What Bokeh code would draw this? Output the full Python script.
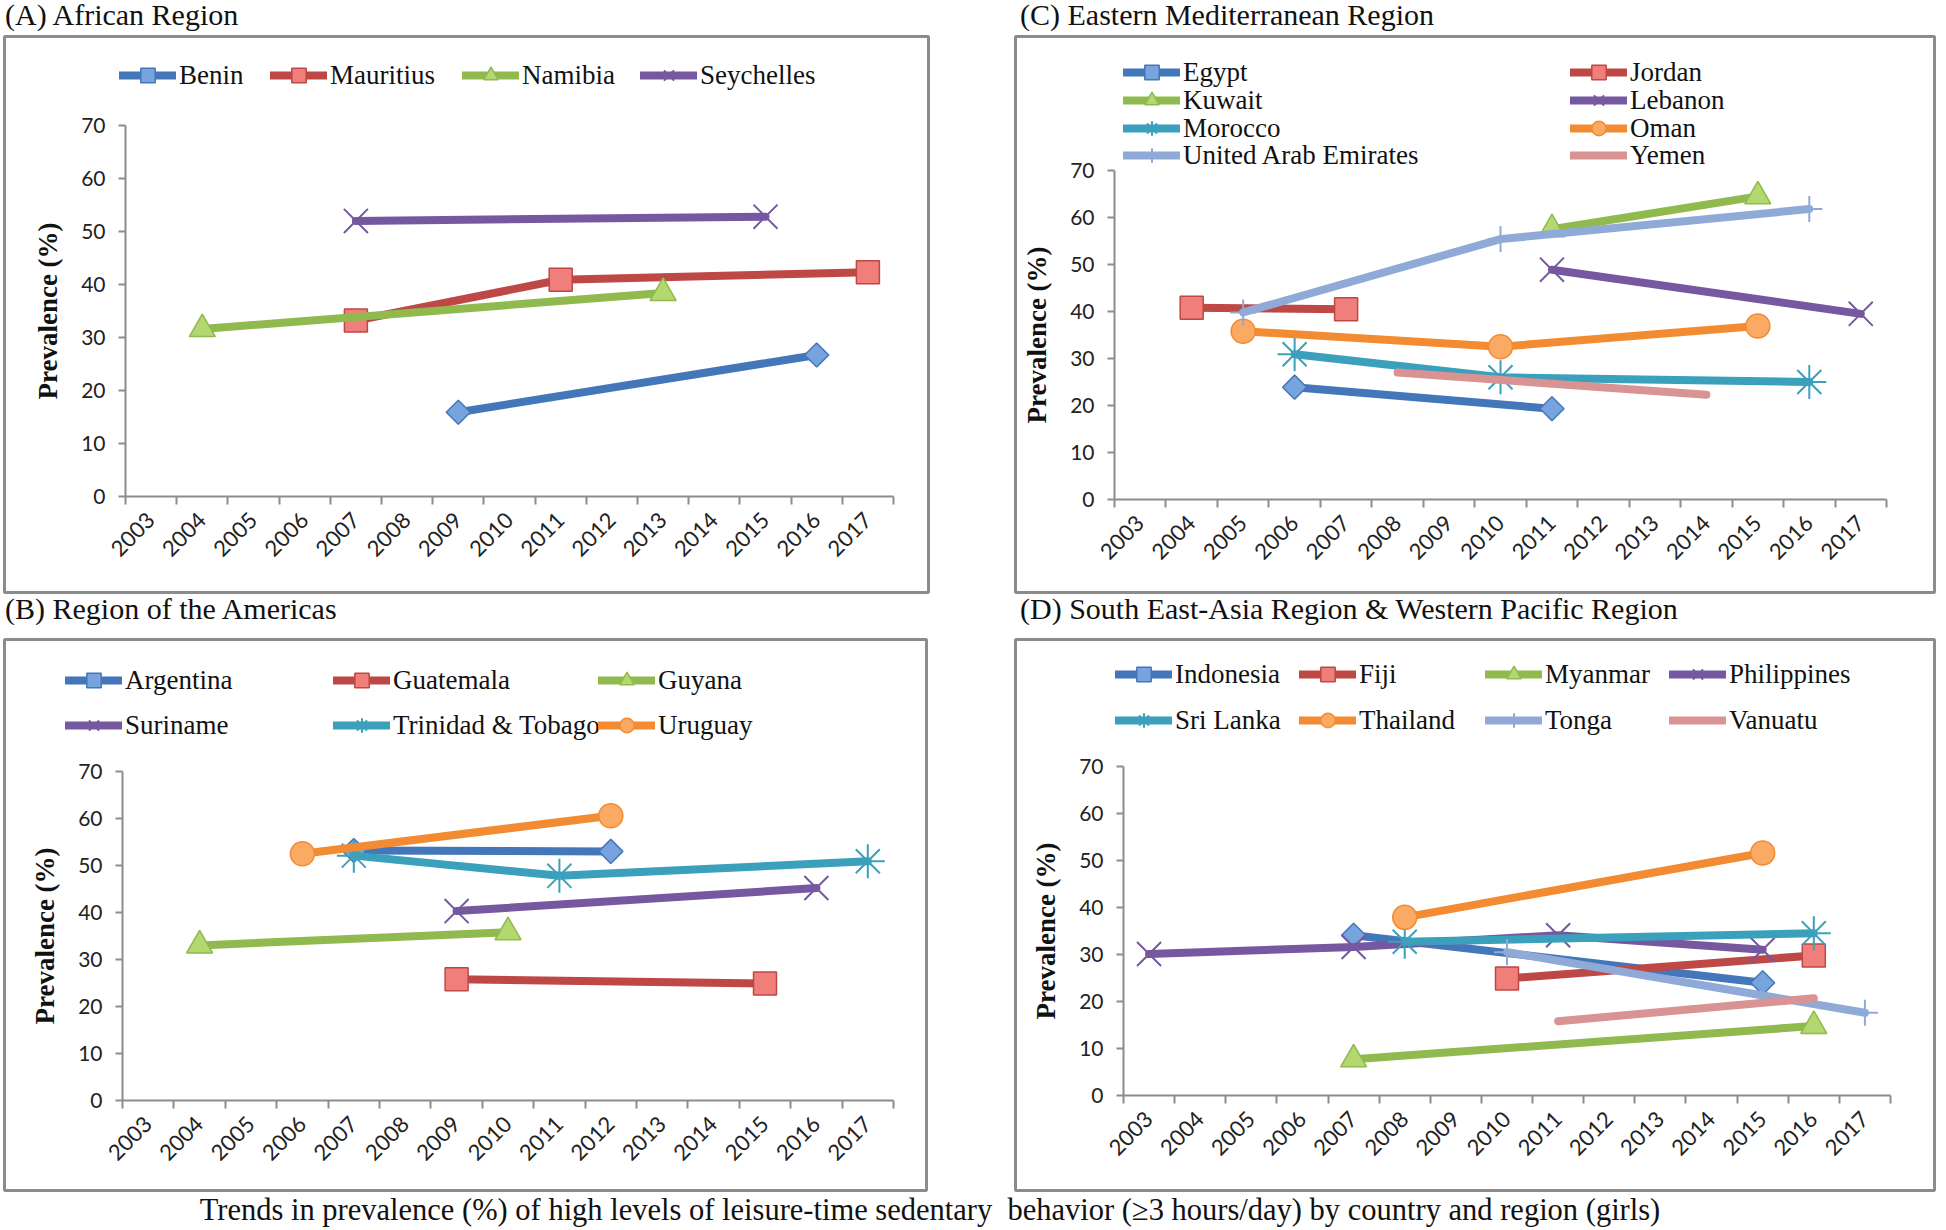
import numpy as np
from bokeh.plotting import figure
from bokeh.models import Range1d, LinearAxis, FixedTicker, Legend, LegendItem, Div
from bokeh.layouts import column, row
from bokeh.embed import file_html
from bokeh.resources import INLINE

# ---------------- data ----------------
YEARS = list(range(2003, 2018))
YEAR_LABELS = [str(y) for y in YEARS]
Y_TICKS = [0, 10, 20, 30, 40, 50, 60, 70]

# (A) African Region
benin_x = [2009, 2016];             benin_y = [15.9, 26.7]
mauritius_x = [2007, 2011, 2017];   mauritius_y = [33.2, 40.9, 42.3]
namibia_x = [2004, 2013];           namibia_y = [31.6, 38.4]
seychelles_x = [2007, 2015];        seychelles_y = [52.0, 52.8]

# (C) Eastern Mediterranean Region
egypt_x = [2006, 2011];             egypt_y = [23.9, 19.3]
jordan_x = [2004, 2007];            jordan_y = [40.8, 40.5]
kuwait_x = [2011, 2015];            kuwait_y = [57.5, 64.5]
lebanon_x = [2011, 2017];           lebanon_y = [48.9, 39.5]
morocco_x = [2006, 2010, 2016];     morocco_y = [30.9, 26.0, 25.0]
oman_x = [2005, 2010, 2015];        oman_y = [35.8, 32.5, 36.9]
uae_x = [2005, 2010, 2016];         uae_y = [39.8, 55.4, 61.8]
yemen_x = [2008, 2014];             yemen_y = [27.0, 22.3]

# (B) Region of the Americas
argentina_x = [2007, 2012];         argentina_y = [53.2, 53.0]
guatemala_x = [2009, 2015];         guatemala_y = [25.8, 24.9]
guyana_x = [2004, 2010];            guyana_y = [33.0, 35.8]
suriname_x = [2009, 2016];          suriname_y = [40.3, 45.2]
trinidad_x = [2007, 2011, 2017];    trinidad_y = [52.1, 47.8, 50.9]
uruguay_x = [2006, 2012];           uruguay_y = [52.5, 60.6]

# (D) South East-Asia Region & Western Pacific Region
indonesia_x = [2007, 2015];             indonesia_y = [34.1, 24.0]
fiji_x = [2010, 2016];                  fiji_y = [24.9, 29.8]
myanmar_x = [2007, 2016];               myanmar_y = [7.7, 14.8]
philippines_x = [2003, 2007, 2011, 2015]; philippines_y = [30.1, 31.6, 34.1, 31.0]
srilanka_x = [2008, 2016];              srilanka_y = [32.7, 34.5]
thailand_x = [2008, 2015];              thailand_y = [37.9, 51.6]
tonga_x = [2010, 2017];                 tonga_y = [30.5, 17.6]
vanuatu_x = [2011, 2016];               vanuatu_y = [15.8, 20.7]

TITLE_A = "(A) African Region"
TITLE_B = "(B) Region of the Americas"
TITLE_C = "(C) Eastern Mediterranean Region"
TITLE_D = "(D) South East-Asia Region & Western Pacific Region"
CAPTION = ("Trends in prevalence (%) of high levels of leisure-time sedentary \u00a0behavior "
           "(\u22653 hours/day) by country and region (girls)")
Y_LABEL = "Prevalence (%)"

# ---------------- styles ----------------
SERIF = "Liberation Serif"
TICKFONT = "Lato"
AXC = "#8c8c8c"

STYLES = [
    dict(line="#4477BA", fill="#77A4DE", marker="square", angle=np.pi / 4, size=17, lw=1.5),
    dict(line="#BE4845", fill="#F07E7B", marker="square", angle=0, size=23, lw=1.5),
    dict(line="#90B94E", fill="#B2D86F", marker="triangle", angle=0, size=26, lw=1.5),
    dict(line="#7658A1", fill=None, marker="x", angle=0, size=34, lw=2),
    dict(line="#3BA0BB", fill=None, marker="asterisk", angle=0, size=34, lw=2),
    dict(line="#F28B31", fill="#FBAA63", marker="circle", angle=0, size=24, lw=1.5),
    dict(line="#90AAD8", fill=None, marker="cross", angle=0, size=26, lw=2),
    dict(line="#D99392", fill=None, marker=None),
]


def make_panel(series, frame, axes_px, legend_pos, border):
    fl, fr, ft, fb = frame           # page coords of the frame
    W, H = fr - fl, fb - ft
    yax, xright, y0, y70 = axes_px   # page coords of axes
    ppy = (xright - yax) / 15.0
    x_start = 2002.5 - (yax - fl) / ppy
    x_end = 2017.5 + (fr - xright) / ppy
    ppu = (y0 - y70) / 70.0
    y_start = -(fb - y0) / ppu
    y_end = 70 + (y70 - ft) / ppu

    p = figure(frame_width=W, frame_height=H,
               x_range=Range1d(x_start, x_end), y_range=Range1d(y_start, y_end),
               x_axis_location=None, y_axis_location=None,
               toolbar_location=None, output_backend="svg",
               min_border_left=border[0], min_border_right=border[1],
               min_border_top=border[2], min_border_bottom=border[3])
    p.outline_line_color = AXC
    p.outline_line_width = 3
    p.background_fill_color = "white"
    p.border_fill_color = "white"
    p.grid.visible = False

    # category boundary ticks (no labels)
    xa = LinearAxis(fixed_location=0, bounds=(2002.5, 2017.5),
                    ticker=FixedTicker(ticks=[2002.5 + i for i in range(16)]))
    xa.axis_line_color = AXC
    xa.axis_line_width = 2
    xa.major_tick_line_color = AXC
    xa.major_tick_line_width = 2
    xa.major_tick_out = 8
    xa.major_tick_in = 0
    xa.minor_tick_line_color = None
    xa.major_label_text_color = None
    p.add_layout(xa, "below")

    # year labels at category centres
    xl = LinearAxis(fixed_location=0, ticker=FixedTicker(ticks=YEARS),
                    major_label_overrides={y: s for y, s in zip(YEARS, YEAR_LABELS)},
                    major_label_orientation=np.pi / 4)
    xl.axis_line_color = None
    xl.major_tick_line_color = None
    xl.minor_tick_line_color = None
    xl.major_tick_out = 0
    xl.major_tick_in = 0
    xl.major_label_standoff = 20
    xl.major_label_text_font = TICKFONT
    xl.major_label_text_font_size = "22px"
    xl.major_label_text_color = "#222222"
    p.add_layout(xl, "below")

    ya = LinearAxis(fixed_location=2002.5, bounds=(0, 70), ticker=FixedTicker(ticks=Y_TICKS),
                    axis_label=Y_LABEL)
    ya.axis_line_color = AXC
    ya.axis_line_width = 2
    ya.major_tick_line_color = AXC
    ya.major_tick_line_width = 2
    ya.major_tick_out = 7
    ya.major_tick_in = 0
    ya.minor_tick_line_color = None
    ya.major_label_standoff = 13
    ya.major_label_text_font = TICKFONT
    ya.major_label_text_font_size = "21px"
    ya.major_label_text_color = "#222222"
    ya.axis_label_text_font = SERIF
    ya.axis_label_text_font_style = "bold"
    ya.axis_label_text_font_size = "27px"
    ya.axis_label_text_color = "#111111"
    ya.axis_label_standoff = 15
    p.add_layout(ya, "left")

    # series
    rends = []
    for i, (name, xs, ys) in enumerate(series):
        st = STYLES[i]
        r = [p.line(xs, ys, line_color=st["line"], line_width=8,
                    line_cap="round", line_join="round")]
        if st["marker"]:
            r.append(p.scatter(xs, ys, marker=st["marker"], size=st["size"], angle=st["angle"],
                               fill_color=st["fill"] if st["fill"] else None,
                               line_color=st["line"], line_width=st["lw"]))
        rends.append(r)

    # legend items, each placed at its own spot
    LH = 36
    for i, (gx, gy) in enumerate(legend_pos):
        leg = Legend(items=[LegendItem(label=series[i][0], renderers=rends[i])],
                     location=(gx - fl, fb - gy - LH / 2),
                     orientation="horizontal", padding=0, margin=0, spacing=0,
                     glyph_width=57, glyph_height=LH, label_height=LH, label_standoff=3,
                     border_line_color=None, background_fill_alpha=0,
                     label_text_font=SERIF, label_text_font_size="27px",
                     label_text_color="#111111")
        p.add_layout(leg)
    return p


def title_div(text, width, height, indent):
    return Div(text=text, render_as_text=True, width=width, height=height, margin=0,
               styles={"font-family": SERIF, "font-size": "30px", "line-height": "30px",
                       "text-indent": f"{indent}px", "white-space": "nowrap",
                       "color": "#111111"})


series_A = [("Benin", benin_x, benin_y), ("Mauritius", mauritius_x, mauritius_y),
            ("Namibia", namibia_x, namibia_y), ("Seychelles", seychelles_x, seychelles_y)]
series_C = [("Egypt", egypt_x, egypt_y), ("Jordan", jordan_x, jordan_y),
            ("Kuwait", kuwait_x, kuwait_y), ("Lebanon", lebanon_x, lebanon_y),
            ("Morocco", morocco_x, morocco_y), ("Oman", oman_x, oman_y),
            ("United Arab Emirates", uae_x, uae_y), ("Yemen", yemen_x, yemen_y)]
series_B = [("Argentina", argentina_x, argentina_y), ("Guatemala", guatemala_x, guatemala_y),
            ("Guyana", guyana_x, guyana_y), ("Suriname", suriname_x, suriname_y),
            ("Trinidad & Tobago", trinidad_x, trinidad_y), ("Uruguay", uruguay_x, uruguay_y)]
series_D = [("Indonesia", indonesia_x, indonesia_y), ("Fiji", fiji_x, fiji_y),
            ("Myanmar", myanmar_x, myanmar_y), ("Philippines", philippines_x, philippines_y),
            ("Sri Lanka", srilanka_x, srilanka_y), ("Thailand", thailand_x, thailand_y),
            ("Tonga", tonga_x, tonga_y), ("Vanuatu", vanuatu_x, vanuatu_y)]

# row 1: titles 0-34, frames 36-592 ; row 2: titles 594-632, frames 639-1190
tA = title_div(TITLE_A, 1011, 34, 5)
tC = title_div(TITLE_C, 927, 34, 9)
pA = make_panel(series_A, (4, 928, 36, 592), (125, 893, 496, 125),
                [(119, 75), (270, 75), (462, 75), (640, 75)], (4, 83, 2, 2))
pC = make_panel(series_C, (1015, 1934, 36, 592), (1114, 1886, 499, 170),
                [(1123, 72), (1570, 72), (1123, 100), (1570, 100),
                 (1123, 128), (1570, 128), (1123, 155), (1570, 155)], (4, 4, 2, 2))
tB = title_div(TITLE_B, 1011, 38, 5)
tD = title_div(TITLE_D, 927, 38, 9)
pB = make_panel(series_B, (4, 926, 639, 1190), (122, 893, 1100, 771),
                [(65, 680), (333, 680), (598, 680),
                 (65, 725), (333, 725), (598, 725)], (4, 85, 7, 2))
pD = make_panel(series_D, (1015, 1934, 639, 1190), (1123, 1890, 1095, 766),
                [(1115, 674), (1299, 674), (1485, 674), (1669, 674),
                 (1115, 720), (1299, 720), (1485, 720), (1669, 720)], (4, 4, 7, 2))

cap = Div(text=CAPTION, render_as_text=True, width=1860, height=36, margin=0,
          styles={"font-family": SERIF, "font-size": "30.5px", "text-align": "center",
                  "color": "#111111", "white-space": "nowrap", "line-height": "36px"})

layout = column(row(tA, tC), row(pA, pC), row(tB, tD), row(pB, pD), cap)
open("out.html", "w").write(file_html(layout, INLINE, "Sedentary behaviour trends"))
